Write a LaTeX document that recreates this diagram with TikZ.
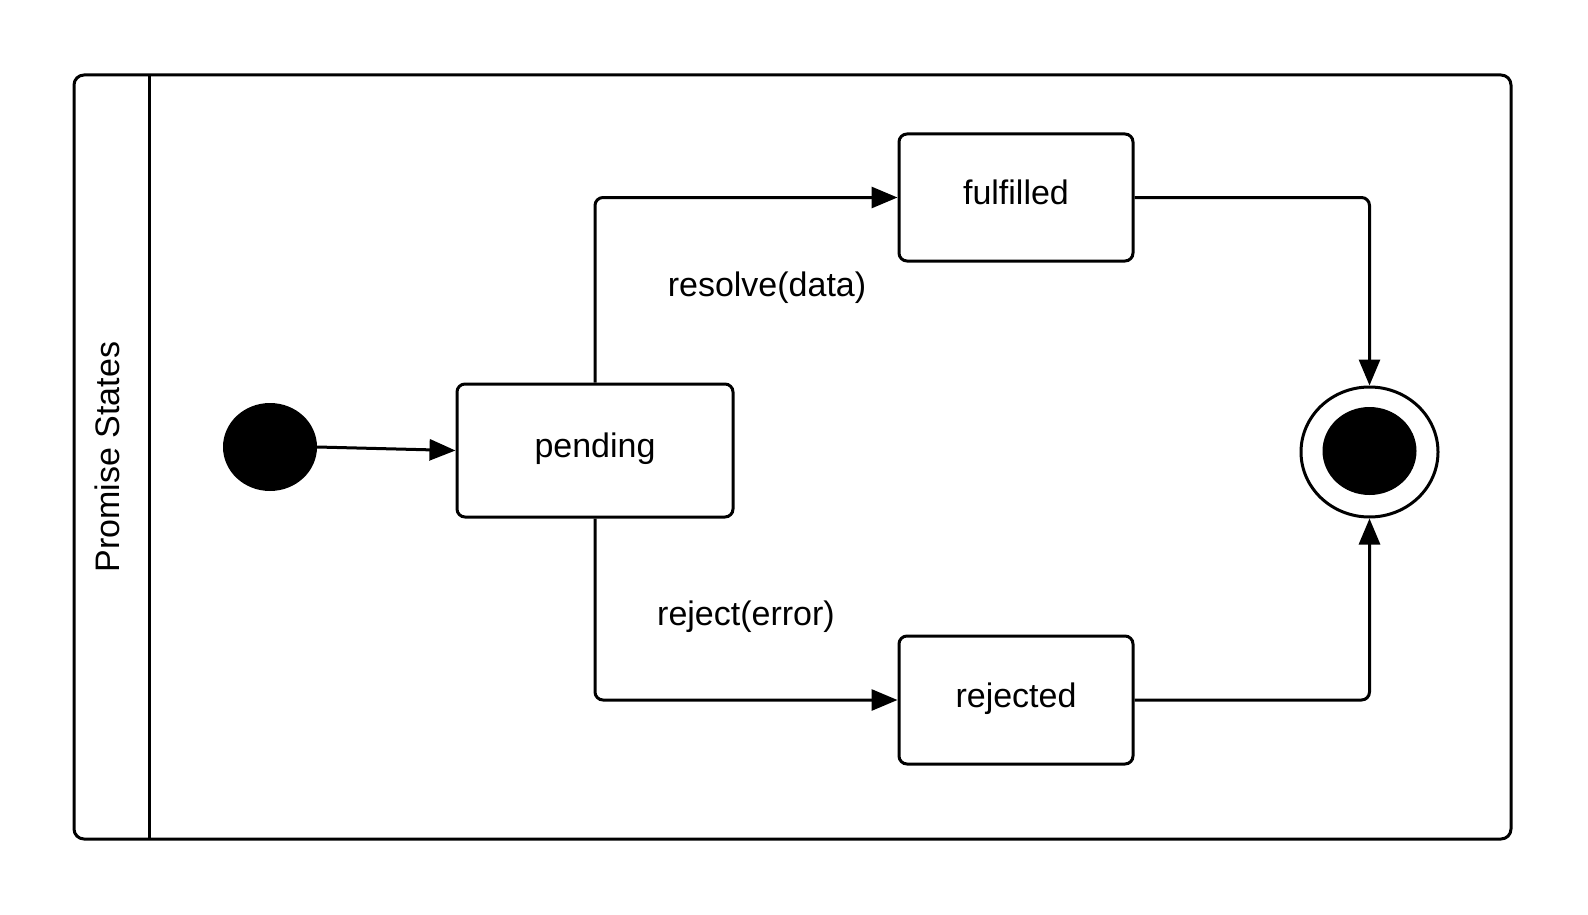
\documentclass[tikz,border=0pt]{standalone}
\usepackage{fontspec}
\setmainfont{Liberation Sans}
\usetikzlibrary{arrows.meta,shapes.geometric}
\begin{document}
\begin{tikzpicture}[x=1pt,y=-1pt,
  every node/.style={font=\fontsize{34}{39}\selectfont},
  statebox/.style={draw,line width=3pt,rounded corners=8pt,inner sep=0pt},
  blob/.style={ellipse,fill=black,inner sep=0pt,minimum width=94pt,minimum height=88pt},
  conn/.style={line width=3pt,rounded corners=8pt,-{Triangle[length=26pt,width=21pt]}},
  lbl/.style={inner sep=0pt}]
\useasboundingbox (0,0) rectangle (1588,915);
% swimlane
\node[draw,line width=3pt,rounded corners=10pt,minimum width=1437pt,minimum height=764pt,inner sep=0pt] (lane) at (792.5,457) {};
\coordinate (dtop) at (149,75);
\coordinate (dbot) at (149,839);
\draw[line width=3pt] (dtop) -- (dbot);
\node[lbl,rotate=90] (title) at (107,457) {Promise States};
% states
\node[blob] (init) at (270,447) {};
\node[statebox,minimum width=276pt,minimum height=133pt] (pend) at (595,450.5) {};
\node[statebox,minimum width=234pt,minimum height=127pt] (ful) at (1016,197.5) {};
\node[statebox,minimum width=234pt,minimum height=128pt] (rej) at (1016,700) {};
\node[lbl,yshift=2pt] (pendt) at (pend.center) {pending};
\node[lbl,yshift=5pt] (fult) at (ful.center) {fulfilled};
\node[lbl,yshift=1pt] (rejt) at (rej.center) {rejected};
\node[ellipse,draw,line width=3pt,minimum width=137pt,minimum height=130pt,inner sep=0pt] (fin) at (1369.5,452) {};
\node[blob] (finin) at (1369.5,451) {};
% connectors
\draw[conn] (init.east) -- (pend.west);
\draw[conn] (pend.north) |- (ful.west);
\draw[conn] (pend.south) |- (rej.west);
\draw[conn] (ful.east) -| (fin.north);
\draw[conn] (rej.east) -| (fin.south);
% labels
\node[lbl] (lres) at (767,288) {resolve(data)};
\node[lbl] (lrej) at (746,617) {reject(error)};
\end{tikzpicture}
\end{document}
